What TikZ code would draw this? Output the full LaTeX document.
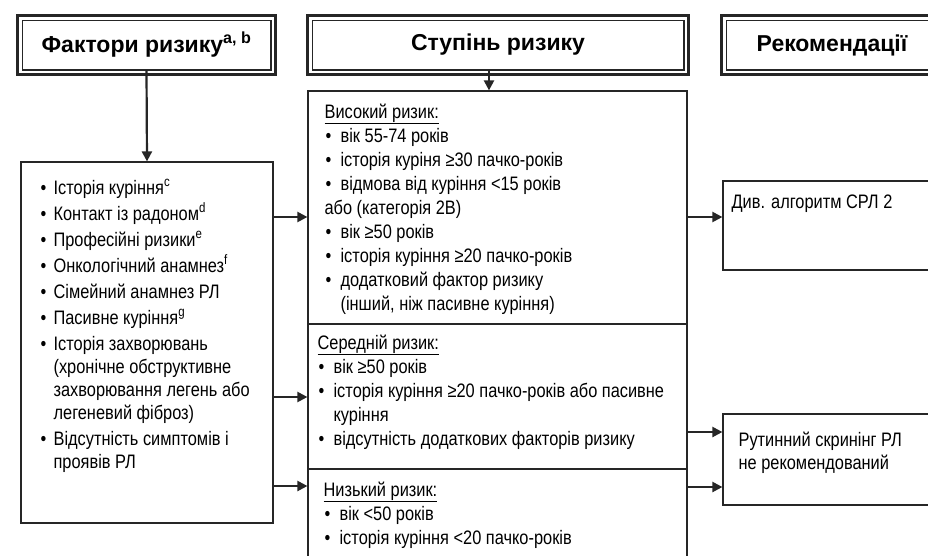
\documentclass[tikz,border=0pt]{standalone}
\usepackage{fontspec}
\setmainfont{Liberation Sans}
\newfontfamily\narrowfont[FakeStretch=0.84]{Liberation Sans}
\usepackage{tikz}
\usetikzlibrary{arrows.meta}
\usetikzlibrary{positioning}
\usetikzlibrary{calc}
\tikzstyle{header}=[draw=black!85,line width=1.5pt,inner sep=0pt,font=\bfseries\fontsize{23}{27}\selectfont]
\tikzstyle{outerframe}=[draw=black!85,line width=3pt]
\tikzstyle{panel}=[draw=black!85,line width=1.2pt,inner sep=0pt]
\tikzstyle{body}=[inner sep=0pt,anchor=north west,align=left,font=\narrowfont\fontsize{19.5}{23}\selectfont]
\tikzstyle{riskbody}=[body,font=\narrowfont\fontsize{19.5}{24}\selectfont]
\tikzstyle{link}=[-{Triangle[length=10pt,width=10pt]},line width=2.2pt,draw=black!85]
\newcommand{\bul}[1][14pt]{\makebox[#1][l]{\hspace{1pt}•}}
\newcommand{\gap}{\\[3pt]}

\begin{document}
\begin{tikzpicture}[x=1pt,y=-1pt]
\useasboundingbox (0,0) rectangle (928,555);
\clip (0,0) rectangle (928,555);

% column headers
\node [header,minimum width=248.5pt,minimum height=49.5pt] (hfact) at (146.5,45) {Фактори ризику\textsuperscript{a, b}};
\node [header,minimum width=371.5pt,minimum height=49.5pt] (hlevel) at (498,45) {Ступінь ризику};
\node [header,minimum width=211.5pt,minimum height=49.5pt] (hrec) at (832,45) {Рекомендації};
\foreach \h in {hfact,hlevel,hrec}
  \draw [outerframe] ([shift={(-3.75pt,3.75pt)}]\h.north west) rectangle ([shift={(3.75pt,-3.75pt)}]\h.south east);

% frames
\node [panel,minimum width=252pt,minimum height=361pt] (factbox) at (147,342.5) {};
\node [panel,minimum width=379pt,minimum height=233pt] (high) at (497.5,207.5) {};
\node [panel,minimum width=379pt,minimum height=145pt] (medium) at (497.5,396.5) {};
\node [panel,minimum width=379pt,minimum height=106pt] (low) at (497.5,522) {};
\node [panel,minimum width=222pt,minimum height=89pt] (screen) at (834,225.5) {};
\node [panel,minimum width=222pt,minimum height=91pt] (noscreen) at (834,459.5) {};

% texts
\node [body] (factlist) at ([xshift=19pt,yshift=-18pt]factbox.north west) {%
\bul Історія куріння\textsuperscript{c}\gap
\bul Контакт із радоном\textsuperscript{d}\gap
\bul Професійні ризики\textsuperscript{e}\gap
\bul Онкологічний анамнез\textsuperscript{f}\gap
\bul Сімейний анамнез РЛ\gap
\bul Пасивне куріння\textsuperscript{g}\gap
\bul Історія захворювань\\
\hspace*{14pt}(хронічне обструктивне\\
\hspace*{14pt}захворювання легень або\\
\hspace*{14pt}легеневий фіброз)\gap
\bul Відсутність симптомів і\\
\hspace*{14pt}проявів РЛ};

\node [riskbody] (highlist) at ([xshift=17pt,yshift=-13pt]high.north west) {%
\underline{Високий ризик:}\\
\bul[16pt]вік 55-74 років\\
\bul[16pt]історія куріня ≥30 пачко-років\\
\bul[16pt]відмова від куріння <15 років\\
або (категорія 2В)\\
\bul[16pt]вік ≥50 років\\
\bul[16pt]історія куріння ≥20 пачко-років\\
\bul[16pt]додатковий фактор ризику\\
\hspace*{16pt}(інший, ніж пасивне куріння)};

\node [riskbody] (medlist) at ([xshift=10pt,yshift=-11pt]medium.north west) {%
\underline{Середній ризик:}\\
\bul[16pt]вік ≥50 років\\
\bul[16pt]історія куріння ≥20 пачко-років або пасивне\\
\hspace*{16pt}куріння\\
\bul[16pt]відсутність додаткових факторів ризику};

\node [riskbody] (lowlist) at ([xshift=16pt,yshift=-13pt]low.north west) {%
\underline{Низький ризик:}\\
\bul[16pt]вік <50 років\\
\bul[16pt]історія куріння <20 пачко-років};

\node [body] (screentext) at ([xshift=9pt,yshift=-14pt]screen.north west) {Див. алгоритм СРЛ 2};
\node [body] (noscreentext) at ([xshift=16pt,yshift=-18pt]noscreen.north west) {Рутинний скринінг РЛ\\не рекомендований};

% connectors
\draw [link] (hfact.south) -- (factbox.north);
\draw [link] ([xshift=-9pt]hlevel.south) -- ([xshift=-8.5pt]high.north);
\draw [link] (factbox.east |- 0,217) -- (high.west |- 0,217);
\draw [link] (factbox.east |- 0,397) -- (medium.west |- 0,397);
\draw [link] (factbox.east |- 0,486) -- (low.west |- 0,486);
\draw [link] (high.east |- 0,217) -- (screen.west |- 0,217);
\draw [link] (medium.east |- 0,432) -- (noscreen.west |- 0,432);
\draw [link] (low.east |- 0,487) -- (noscreen.west |- 0,487);
\end{tikzpicture}
\end{document}
